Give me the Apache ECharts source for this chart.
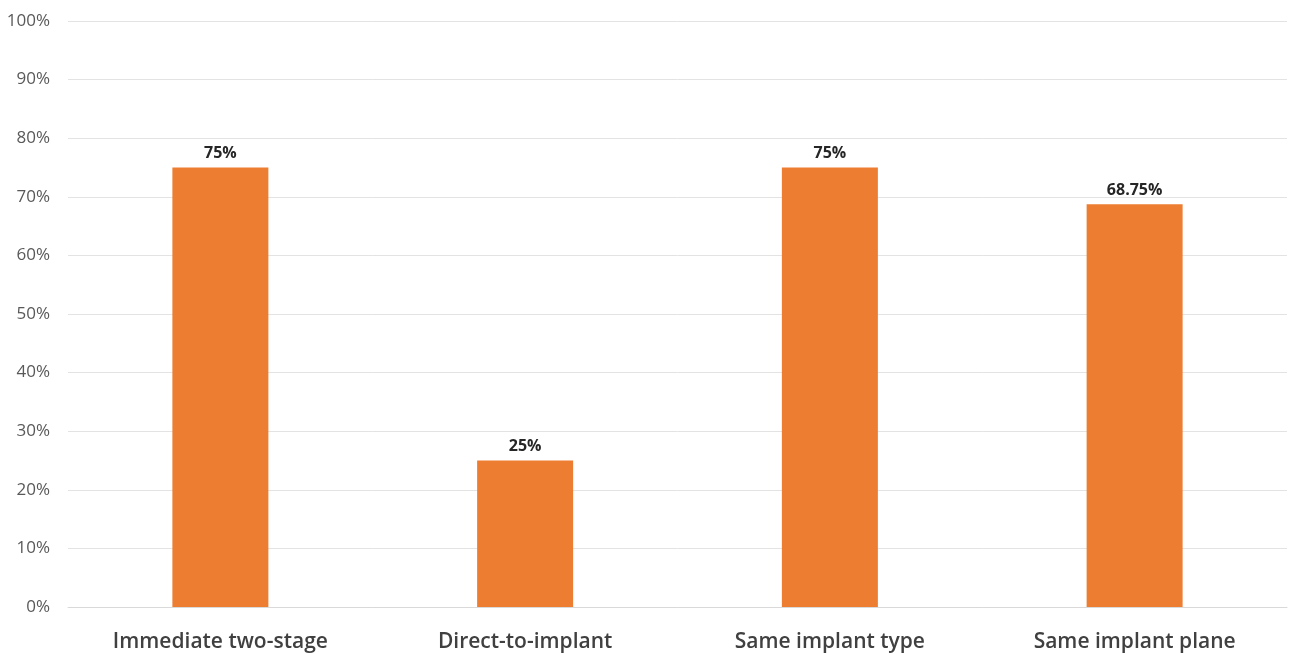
<!DOCTYPE html>
<html><head><meta charset="utf-8">
<script src="https://cdn.jsdelivr.net/npm/echarts@6/dist/echarts.min.js"></script>
<style>html,body{margin:0;padding:0;background:#fff}#c{width:1289px;height:653px}</style>
</head><body><div id="c"></div>
<script>
const categories = ["Immediate two-stage", "Direct-to-implant", "Same implant type", "Same implant plane"];
const values = [75, 25, 75, 68.75];
const yTicks = [0, 10, 20, 30, 40, 50, 60, 70, 80, 90, 100];

const chart = echarts.init(document.getElementById('c'), null, {renderer: 'canvas'});
chart.setOption({
  animation: false,
  backgroundColor: '#ffffff',
  grid: {left: 68, right: 2, top: 21, bottom: 45, containLabel: false},
  xAxis: {
    type: 'category',
    data: categories,
    axisLine: {show: true, lineStyle: {color: '#d9d9d9', width: 1}},
    axisTick: {show: false},
    axisLabel: {
      color: '#404040', fontFamily: 'Open Sans', fontWeight: 600, fontSize: 21, margin: 25
    }
  },
  yAxis: {
    type: 'value',
    min: yTicks[0], max: yTicks[yTicks.length - 1], interval: 10,
    axisLine: {show: false},
    axisTick: {show: false},
    splitLine: {lineStyle: {color: '#e3e3e3', width: 1}},
    axisLabel: {
      color: '#595959', fontFamily: 'Open Sans', fontSize: 17, margin: 18,
      formatter: v => v + '%'
    }
  },
  series: [{
    type: 'bar',
    data: values,
    barWidth: '31.5%',
    itemStyle: {color: '#ED7D31'},
    label: {
      show: true, position: 'top', distance: 6,
      color: '#262626', fontFamily: 'Open Sans', fontWeight: 'bold', fontSize: 16,
      formatter: p => p.value + '%'
    }
  }]
});
</script></body></html>
